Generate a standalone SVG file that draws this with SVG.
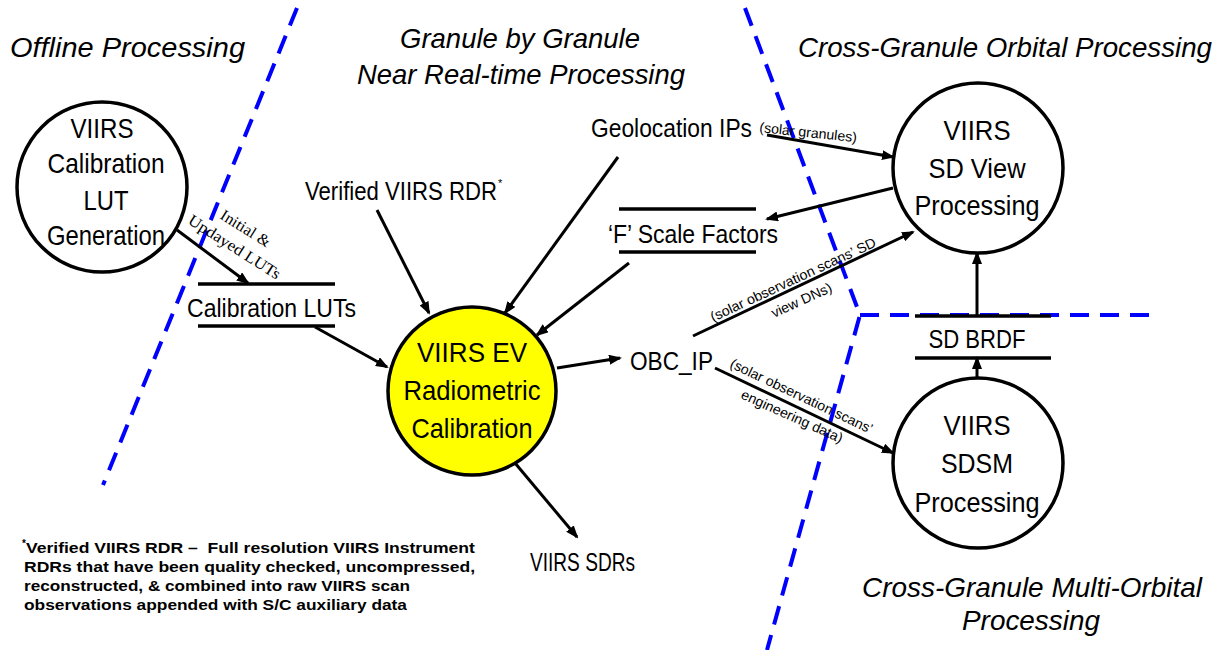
<svg xmlns="http://www.w3.org/2000/svg" width="1228" height="650" viewBox="0 0 1228 650">
<defs>
<style>
.bnd{fill:none;stroke:#0000FF;stroke-width:4;stroke-dasharray:19 11}
.node{fill:#FFFFFF;stroke:#000;stroke-width:3.5}
.yel{fill:#FFFF00;stroke:#000;stroke-width:3.5}
.t{font-family:"Liberation Sans",Arial,sans-serif;font-size:28px;fill:#000}
.c{text-anchor:middle}
.lbl{font-family:"Liberation Sans",Arial,sans-serif;font-size:26px;fill:#000}
.ttl{font-family:"Liberation Sans",Arial,sans-serif;font-size:28px;font-style:italic;fill:#000}
.sm{font-family:"Liberation Sans",Arial,sans-serif;font-size:14px;fill:#000}
.ser{font-family:"Liberation Serif","Times New Roman",serif;font-size:16px;fill:#000}
.fn{font-family:"Liberation Sans",Arial,sans-serif;font-size:15px;font-weight:bold;fill:#000}
.ds{stroke:#000;stroke-width:3.5}
.ar{fill:none;stroke:#000;stroke-width:3;marker-end:url(#ah)}
</style>
<marker id="ah" markerWidth="13" markerHeight="10" refX="11" refY="5" orient="auto" markerUnits="userSpaceOnUse">
<path d="M0,0 L13,5 L0,10 z" fill="#000"/>
</marker>
</defs>
<rect width="1228" height="650" fill="#FFFFFF"/>

<g id="boundaries">
<path class="bnd" d="M297,8 L103,485"/>
<path class="bnd" d="M745,8 L860,315 L767,650"/>
<path class="bnd" d="M860,315 L1150,315"/>
</g>

<g id="titles">
<text class="ttl" x="10" y="57" textLength="235" lengthAdjust="spacingAndGlyphs">Offline Processing</text>
<text class="ttl" x="400" y="48" textLength="240" lengthAdjust="spacingAndGlyphs">Granule by Granule</text>
<text class="ttl" x="357" y="84" textLength="328" lengthAdjust="spacingAndGlyphs">Near Real-time Processing</text>
<text class="ttl" x="798" y="57" textLength="414" lengthAdjust="spacingAndGlyphs">Cross-Granule Orbital Processing</text>
<text class="ttl" x="862" y="597" textLength="340" lengthAdjust="spacingAndGlyphs">Cross-Granule Multi-Orbital</text>
<text class="ttl" x="962" y="630" textLength="138" lengthAdjust="spacingAndGlyphs">Processing</text>
</g>

<g id="connectors">
<line class="ar" x1="177" y1="230" x2="248" y2="283"/>
<line class="ar" x1="315" y1="327" x2="387" y2="367"/>
<line class="ar" x1="377" y1="210" x2="429" y2="313"/>
<line class="ar" x1="618" y1="157" x2="505" y2="313"/>
<line class="ar" x1="629" y1="263" x2="537" y2="335"/>
<line class="ar" x1="557" y1="368" x2="620" y2="358"/>
<line class="ar" x1="515" y1="463" x2="577" y2="537"/>
<line class="ar" x1="767" y1="135" x2="893" y2="157"/>
<line class="ar" x1="893" y1="188" x2="767" y2="219"/>
<line class="ar" x1="693" y1="336" x2="913" y2="232"/>
<line class="ar" x1="715" y1="368" x2="893" y2="453"/>
<line class="ar" x1="977" y1="316" x2="977" y2="253"/>
<line class="ar" x1="977" y1="378" x2="977" y2="358"/>
<g transform="translate(219,218) rotate(32)"><text class="ser" x="0" y="0" textLength="56" lengthAdjust="spacingAndGlyphs">Initial &amp;</text></g>
<g transform="translate(187,223) rotate(32.5)"><text class="ser" x="0" y="0" textLength="106" lengthAdjust="spacingAndGlyphs">Updayed LUTs</text></g>
<g transform="translate(759,132) rotate(6)"><text class="sm" x="0" y="0" textLength="98" lengthAdjust="spacingAndGlyphs">(solar granules)</text></g>
<g transform="translate(713,322) rotate(-24.9)"><text class="sm" x="0" y="0" textLength="181" lengthAdjust="spacingAndGlyphs">(solar observation scans’ SD</text></g>
<g transform="translate(774,318) rotate(-24.6)"><text class="sm" x="0" y="0" textLength="65" lengthAdjust="spacingAndGlyphs">view DNs)</text></g>
<g transform="translate(729,367) rotate(25.4)"><text class="sm" x="0" y="0" textLength="156" lengthAdjust="spacingAndGlyphs">(solar observation scans’</text></g>
<g transform="translate(740,398) rotate(24.2)"><text class="sm" x="0" y="0" textLength="110" lengthAdjust="spacingAndGlyphs">engineering data)</text></g>
</g>

<g id="lut-generation">
<circle class="node" cx="102" cy="187" r="85"/>
<text class="t c" x="102" y="138" textLength="63" lengthAdjust="spacingAndGlyphs">VIIRS</text>
<text class="t c" x="106" y="173" textLength="117" lengthAdjust="spacingAndGlyphs">Calibration</text>
<text class="t c" x="106" y="210" textLength="45" lengthAdjust="spacingAndGlyphs">LUT</text>
<text class="t c" x="106" y="245" textLength="118" lengthAdjust="spacingAndGlyphs">Generation</text>
</g>

<g id="calibration-luts">
<line class="ds" x1="198" y1="284" x2="335" y2="284"/>
<line class="ds" x1="198" y1="326" x2="335" y2="326"/>
<text class="lbl" x="187" y="317" textLength="169" lengthAdjust="spacingAndGlyphs">Calibration LUTs</text>
</g>

<g id="verified-rdr">
<text class="lbl" x="305" y="200"><tspan textLength="192" lengthAdjust="spacingAndGlyphs">Verified VIIRS RDR</tspan><tspan font-size="11" dx="1" dy="-13">*</tspan></text>
</g>

<g id="geolocation">
<text class="lbl" x="591" y="137" textLength="161" lengthAdjust="spacingAndGlyphs">Geolocation IPs</text>
</g>

<g id="f-scale">
<line class="ds" x1="619" y1="209" x2="756" y2="209"/>
<line class="ds" x1="619" y1="252" x2="756" y2="252"/>
<text class="lbl" x="608" y="243" textLength="170" lengthAdjust="spacingAndGlyphs">‘F’ Scale Factors</text>
</g>

<g id="ev-calibration">
<circle class="yel" cx="472" cy="391" r="84"/>
<text class="t c" x="472" y="362" textLength="110" lengthAdjust="spacingAndGlyphs">VIIRS EV</text>
<text class="t c" x="472" y="400" textLength="137" lengthAdjust="spacingAndGlyphs">Radiometric</text>
<text class="t c" x="472" y="438" textLength="121" lengthAdjust="spacingAndGlyphs">Calibration</text>
</g>

<g id="obc-ip">
<text class="lbl" x="630" y="370" textLength="83" lengthAdjust="spacingAndGlyphs">OBC_IP</text>
</g>

<g id="sdrs">
<text class="lbl" x="530" y="571" textLength="105" lengthAdjust="spacingAndGlyphs">VIIRS SDRs</text>
</g>

<g id="sd-view">
<circle class="node" cx="978" cy="168" r="85"/>
<text class="t c" x="977" y="140" textLength="67" lengthAdjust="spacingAndGlyphs">VIIRS</text>
<text class="t c" x="977" y="178" textLength="97" lengthAdjust="spacingAndGlyphs">SD View</text>
<text class="t c" x="977" y="215" textLength="125" lengthAdjust="spacingAndGlyphs">Processing</text>
</g>

<g id="sd-brdf">
<line class="ds" x1="915" y1="316" x2="1051" y2="316"/>
<line class="ds" x1="915" y1="358" x2="1051" y2="358"/>
<text class="lbl" x="977" y="348" text-anchor="middle" textLength="97" lengthAdjust="spacingAndGlyphs">SD BRDF</text>
</g>

<g id="sdsm">
<circle class="node" cx="978" cy="463" r="85"/>
<text class="t c" x="977" y="435" textLength="67" lengthAdjust="spacingAndGlyphs">VIIRS</text>
<text class="t c" x="977" y="473" textLength="72" lengthAdjust="spacingAndGlyphs">SDSM</text>
<text class="t c" x="977" y="512" textLength="125" lengthAdjust="spacingAndGlyphs">Processing</text>
</g>

<g id="footnote">
<text class="fn" x="22" y="553"><tspan font-size="10" dy="-6">*</tspan><tspan dy="6" textLength="449" lengthAdjust="spacingAndGlyphs">Verified VIIRS RDR – &#160;Full resolution VIIRS Instrument</tspan></text>
<text class="fn" x="24" y="572" textLength="451" lengthAdjust="spacingAndGlyphs">RDRs that have been quality checked, uncompressed,</text>
<text class="fn" x="24" y="591" textLength="386" lengthAdjust="spacingAndGlyphs">reconstructed, &amp; combined into raw VIIRS scan</text>
<text class="fn" x="24" y="610" textLength="383" lengthAdjust="spacingAndGlyphs">observations appended with S/C auxiliary data</text>
</g>
</svg>
